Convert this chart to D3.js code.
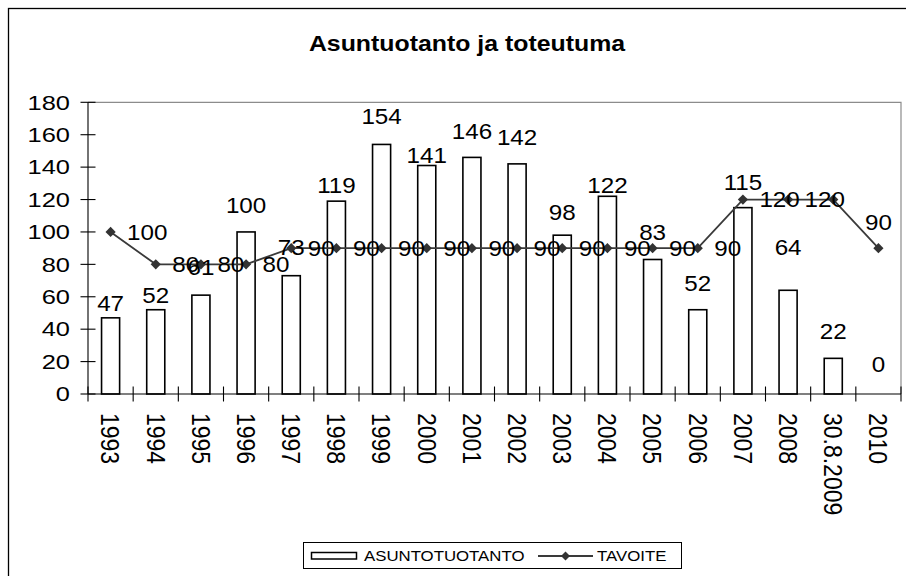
<!DOCTYPE html>
<html>
<head>
<meta charset="utf-8">
<script src="https://cdn.jsdelivr.net/npm/d3@7"></script>
<style>
  html, body { margin: 0; padding: 0; background: #fff; }
  svg { display: block; font-family: "Liberation Sans", Arial, sans-serif; }
</style>
</head>
<body>
<svg id="chart" width="906" height="576"></svg>
<script>
// ---- data ----
const categories = ["1993","1994","1995","1996","1997","1998","1999","2000","2001","2002","2003","2004","2005","2006","2007","2008","30.8.2009","2010"];
const asuntotuotanto = [47,52,61,100,73,119,154,141,146,142,98,122,83,52,115,64,22,0];
const tavoite = [100,80,80,80,90,90,90,90,90,90,90,90,90,90,120,120,120,90];
const yTicks = [0,20,40,60,80,100,120,140,160,180];
const seriesNames = ["ASUNTOTUOTANTO","TAVOITE"];
const titleText = "Asuntuotanto ja toteutuma";

// label placement (as in the original, where labels were nudged by hand)
const barLabelGap = [7,7,20,19,21,8,20,3,18,19,15,3,19,19,18,35,19,22];
const hiddenTavoiteLabels = ["30.8.2009"];

// ---- layout ----
const W = 906, H = 576;
const plot = {left: 88, right: 901, top: 102.3, bottom: 394};
const svg = d3.select("#chart");

const x = d3.scaleBand().domain(categories).range([plot.left, plot.right]).paddingInner(0.6).paddingOuter(0.3);
const xEdge = d3.scaleLinear().domain([0, categories.length]).range([plot.left, plot.right]);
const y = d3.scaleLinear().domain([0, 180]).range([plot.bottom, plot.top]);
const cx = c => x(c) + x.bandwidth() / 2;

function stretchText(g, px, py, k, extra) {
  return g.append("text").attr("transform", `translate(${px},${py}) scale(${k},1)` + (extra || ""));
}

// outer chart border
svg.append("rect").attr("x", 8.5).attr("y", 8.5).attr("width", 1200).attr("height", 1200)
  .attr("fill", "none").attr("stroke", "#000").attr("stroke-width", 1.3);

// title
stretchText(svg, 467, 51, 1.13).attr("text-anchor", "middle")
  .attr("font-size", 22).attr("font-weight", "bold").attr("fill", "#000").text(titleText);

// plot area border (top/right gray)
svg.append("path").attr("d", `M${plot.left},${plot.top}H${plot.right}V${plot.bottom}`)
  .attr("fill", "none").attr("stroke", "#8c8c8c").attr("stroke-width", 1.2);

// bars
svg.append("g").selectAll("rect").data(categories).join("rect")
  .attr("x", c => x(c)).attr("width", x.bandwidth())
  .attr("y", (c, i) => y(asuntotuotanto[i]))
  .attr("height", (c, i) => plot.bottom - y(asuntotuotanto[i]))
  .attr("fill", "#fff").attr("stroke", "#000").attr("stroke-width", 1.6);

// axes
const ax = svg.append("g").attr("stroke", "#000").attr("stroke-width", 1.1);
ax.append("line").attr("x1", plot.left).attr("x2", plot.left).attr("y1", plot.top).attr("y2", plot.bottom);
ax.append("line").attr("x1", plot.left).attr("x2", plot.right).attr("y1", plot.bottom).attr("y2", plot.bottom);
ax.selectAll(".yt").data(yTicks).join("line").attr("class", "yt")
  .attr("x1", plot.left - 7.5).attr("x2", plot.left + 7.5)
  .attr("y1", d => y(d)).attr("y2", d => y(d));
ax.selectAll(".xt").data(d3.range(categories.length + 1)).join("line").attr("class", "xt")
  .attr("x1", d => xEdge(d)).attr("x2", d => xEdge(d))
  .attr("y1", plot.bottom - 7.5).attr("y2", plot.bottom + 7.5);

// y tick labels
const yl = svg.append("g").attr("font-size", 20).attr("fill", "#000");
yTicks.forEach(v => {
  stretchText(yl, 70, y(v), 1.27).attr("text-anchor", "end").attr("dy", "0.36em").text(v);
});

// x tick labels (rotated)
const xl = svg.append("g").attr("font-size", 23).attr("fill", "#000");
categories.forEach(c => {
  stretchText(xl, cx(c), 413, 1.1, " rotate(90)").attr("text-anchor", "start").attr("dy", "0.36em").text(c);
});

// tavoite line + markers
const line = d3.line().x((d, i) => cx(categories[i])).y(d => y(d));
svg.append("path").datum(tavoite).attr("d", line)
  .attr("fill", "none").attr("stroke", "#3a3a3a").attr("stroke-width", 1.8);
const diamond = d3.symbol(d3.symbolSquare, 52);
svg.append("g").selectAll("path").data(tavoite).join("path")
  .attr("d", diamond)
  .attr("transform", (d, i) => `translate(${cx(categories[i])},${y(d)}) rotate(45)`)
  .attr("fill", "#333");

// data labels
const dl = svg.append("g").attr("font-size", 22).attr("fill", "#000");
asuntotuotanto.forEach((v, i) => {
  stretchText(dl, cx(categories[i]), y(v) - barLabelGap[i], 1.1).attr("text-anchor", "middle").text(v);
});
tavoite.forEach((v, i) => {
  if (hiddenTavoiteLabels.includes(categories[i])) return;
  const px = cx(categories[i]);
  const t = stretchText(dl, px + 16.5, y(v), 1.1).attr("text-anchor", "start").attr("dy", "0.36em").text(v);
  const w = t.node().getComputedTextLength() * 1.1;
  if (px + 16.5 + w > W - 4) {
    t.attr("transform", `translate(${px},${y(v) - 18}) scale(1.1,1)`).attr("text-anchor", "middle").attr("dy", null);
  }
});

// legend
const lg = svg.append("g");
lg.append("rect").attr("x", 303.5).attr("y", 542.5).attr("width", 378).attr("height", 26)
  .attr("fill", "#fff").attr("stroke", "#000").attr("stroke-width", 1);
lg.append("rect").attr("x", 311.5).attr("y", 552.5).attr("width", 45).attr("height", 6.5)
  .attr("fill", "#fff").attr("stroke", "#000").attr("stroke-width", 1.5);
stretchText(lg, 364, 560.5, 1.2).attr("font-size", 14).text(seriesNames[0]);
lg.append("line").attr("x1", 538).attr("x2", 593).attr("y1", 556).attr("y2", 556)
  .attr("stroke", "#3a3a3a").attr("stroke-width", 1.8);
lg.append("path").attr("d", d3.symbol(d3.symbolSquare, 40))
  .attr("transform", "translate(565.5,556) rotate(45)").attr("fill", "#333");
stretchText(lg, 597, 560.5, 1.2).attr("font-size", 14).text(seriesNames[1]);
</script>
</body>
</html>
